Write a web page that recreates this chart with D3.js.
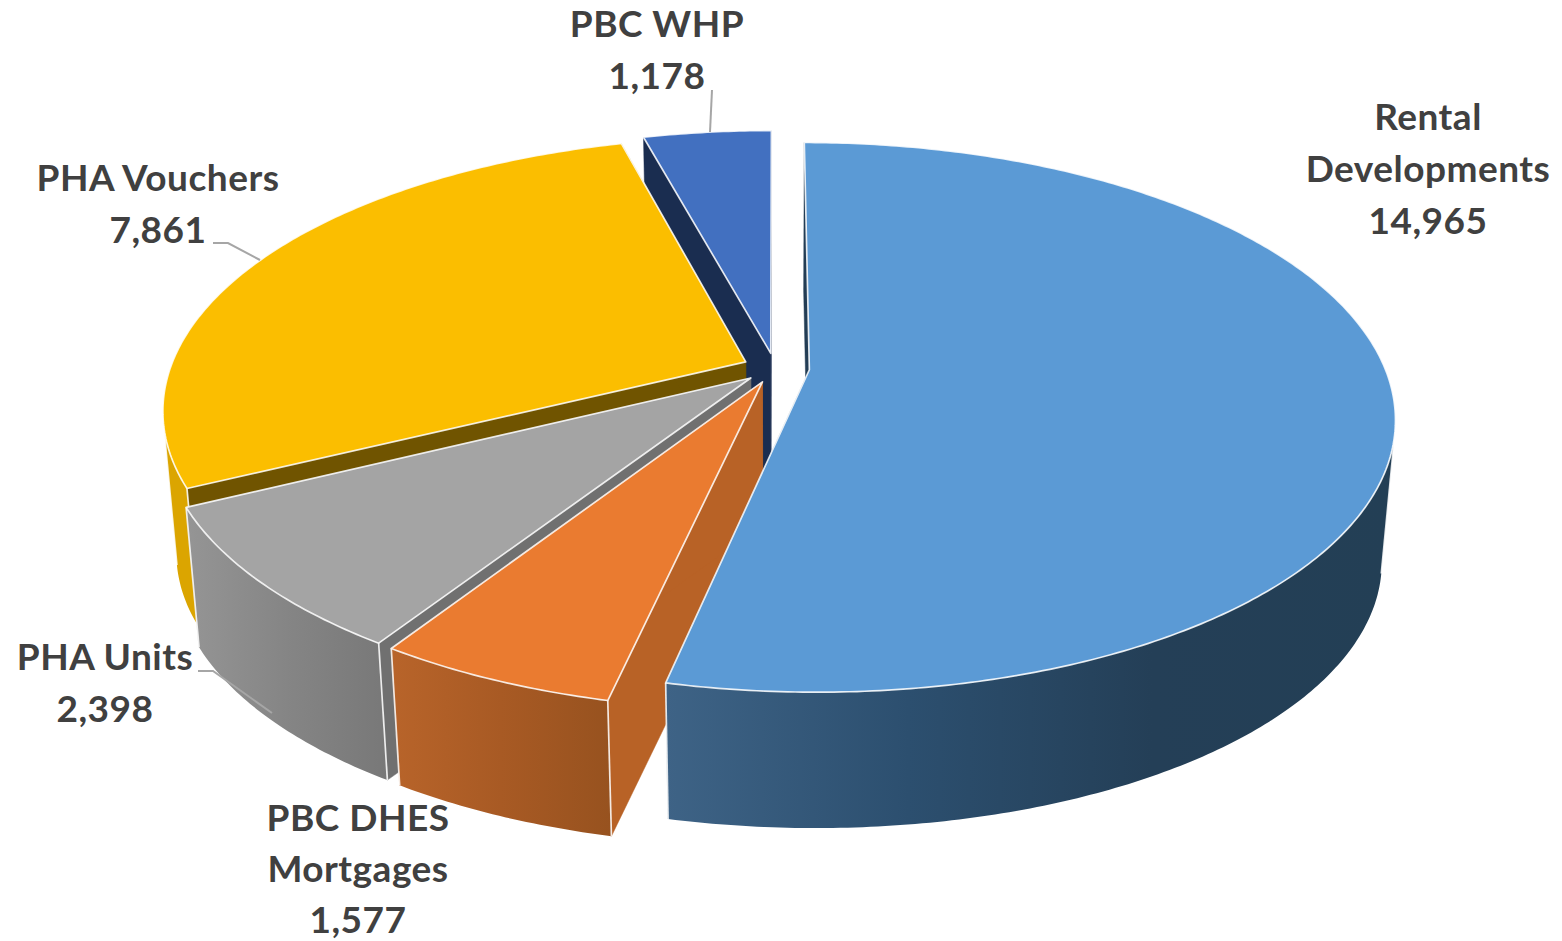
<!DOCTYPE html>
<html><head><meta charset="utf-8">
<script src="https://cdnjs.cloudflare.com/ajax/libs/d3/7.8.5/d3.min.js"></script>
<style>html,body{margin:0;padding:0;background:#fff}svg{display:block}
text{font-family:Lato,"Open Sans",sans-serif;font-weight:700;fill:#404040;font-size:37px;letter-spacing:.5px;text-anchor:middle}</style>
</head><body><svg id="c" width="1562" height="941"></svg>
<script>
// ---- data ----
const categories = ["Rental Developments","PBC DHES Mortgages","PHA Units","PHA Vouchers","PBC WHP"];
const values = [14965,1577,2398,7861,1178];
const topColors = ["#5b9ad5","#ea7b30","#a4a4a4","#fbbe00","#4270c0"];
const sideColors = ["#233d55","#b86226","#707070","#705400","#1a2d50"];
const wallStops = [["#3e6386","#2c4f6f","#243f57","#233f55"],["#b8642a","#a85a24","#97521f"],["#959595","#858585","#787878"],["#dba500","#dba500"],["#1a2d50","#1a2d50"]];
const labelLines = [["Rental","Developments","14,965"],["PBC DHES","Mortgages","1,577"],["PHA Units","2,398"],["PHA Vouchers","7,861"],["PBC WHP","1,178"]];
// ---- layout ----
const labelAt = [[1428,130],[358,831],[105,670],[158,191],[657,37]];
const labelStep = [52,51,52,52,52];
const explodeBy = [0.06,0.056,0.056,0.056,0.056];
const leaders = [null,null,[[198,671],[213,671],[272,713]],[[213,243],[228,243],[260,260]],[[712,90],[710,132]]];
const drawOrder = [4,3,2,1,0];
const cx=775, cy=368, R=575.5, Ry=266, persp=0.173, shrink=0.978, drop=143;

const svg=d3.select("#c"), defs=svg.append("defs");
const arcs=d3.pie().sort(null).value(v=>v).startAngle(0).endAngle(2*Math.PI)(values);
const sx=d3.scaleLinear().domain([0,1]).range([0,R]);
const sy=d3.scaleLinear().domain([0,1]).range([0,Ry]);
function proj(u,v,low){
  const w=1-persp*v; let x=sx(u)/w, y=sy(v)/w;
  return low?[cx+shrink*x, cy+shrink*y+drop]:[cx+x,cy+y];
}
const line=d3.line(), closed=p=>line(p)+"Z";
function rimAngles(a){const n=Math.max(8,Math.ceil((a.endAngle-a.startAngle)*90));return d3.range(n+1).map(i=>a.startAngle+(a.endAngle-a.startAngle)*i/n);}

const strokeW=1.7;
drawOrder.forEach(i=>{
  const a=arcs[i], mid=(a.startAngle+a.endAngle)/2;
  const ou=explodeBy[i]*Math.sin(mid), ov=-explodeBy[i]*Math.cos(mid);
  const P=(t,low)=>proj(ou+Math.sin(t),ov-Math.cos(t),low);
  const C=low=>proj(ou,ov,low);
  const ts=rimAngles(a), g=svg.append("g").attr("class","slice");
  // radial walls
  [a.startAngle,a.endAngle].forEach(t=>{
    g.append("path").attr("d",closed([C(false),P(t,false),P(t,true),C(true)]))
     .attr("fill",sideColors[i]).attr("stroke",sideColors[i]).attr("stroke-width",0.5);
  });
  // front-facing run of the outer wall
  const front=[];
  for(let k=0;k<ts.length-1;k++){
    const p=P(ts[k],false),q=P(ts[k+1],false),r=P(ts[k],true);
    const cross=(q[0]-p[0])*(r[1]-p[1])-(q[1]-p[1])*(r[0]-p[0]);
    if(cross<0){ if(!front.length) front.push(ts[k]); front.push(ts[k+1]); }
  }
  if(front.length>1){
    const up=front.map(t=>P(t,false)), lo=front.map(t=>P(t,true)).reverse();
    const xs=up.concat(lo).map(p=>p[0]), id="w"+i;
    const gr=defs.append("linearGradient").attr("id",id).attr("gradientUnits","userSpaceOnUse")
      .attr("x1",d3.min(xs)).attr("x2",d3.max(xs)).attr("y1",0).attr("y2",0);
    wallStops[i].forEach((c,k)=>gr.append("stop").attr("offset",k/(wallStops[i].length-1)).attr("stop-color",c));
    g.append("path").attr("d",closed(up.concat(lo))).attr("fill",`url(#${id})`);
    // pale vertical edges of the wall
    [front[0],front[front.length-1]].forEach(t=>{
      g.append("path").attr("d",line([P(t,false),P(t,true)])).attr("stroke","#fff").attr("stroke-opacity",0.85).attr("stroke-width",strokeW).attr("fill","none");
    });
  }
  // top face
  g.append("path").attr("d",closed([C(false)].concat(ts.map(t=>P(t,false)))))
   .attr("fill",topColors[i]).attr("stroke","#fff").attr("stroke-opacity",0.85).attr("stroke-width",strokeW).attr("stroke-linejoin","round");
});
// leaders
leaders.forEach(p=>{ if(p) svg.append("path").attr("d",line(p)).attr("fill","none").attr("stroke","#a6a6a6").attr("stroke-width",2); });
// labels
labelLines.forEach((ls,i)=>{
  const t=svg.append("text").attr("data-category",categories[i]);
  ls.forEach((s,k)=>t.append("tspan").attr("x",labelAt[i][0]).attr("y",labelAt[i][1]+k*labelStep[i]).text(s));
});
</script></body></html>
